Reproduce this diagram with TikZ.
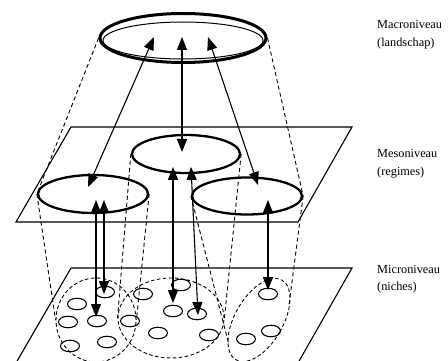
\documentclass[tikz,border=0pt]{standalone}
\usepackage{fontspec}
\setmainfont{Liberation Serif}
\usetikzlibrary{arrows.meta,shapes.geometric}
\begin{document}
\begin{tikzpicture}[x=1pt,y=-1pt,
  plane/.style={line width=1.1pt, line join=miter},
  level/.style={draw, ellipse, inner sep=0pt, line width=2.3pt},
  niche/.style={draw, ellipse, inner sep=0pt, minimum width=19pt, minimum height=11.5pt, line width=1.1pt},
  cluster/.style={draw, ellipse, inner sep=0pt, line width=0.9pt, dash pattern=on 3.5pt off 2.5pt},
  cone/.style={line width=0.9pt, dash pattern=on 4pt off 3pt},
  link/.style={line width=1.1pt, {Triangle[length=13pt,width=10pt]}-{Triangle[length=13pt,width=10pt]}},
  lbl/.style={font=\fontsize{12.3}{14}\selectfont, anchor=base west, inner sep=0pt}
]
\useasboundingbox (0,0) rectangle (448,361);

% planes of the meso and micro level
\coordinate (mesoA) at (16,222);
\coordinate (mesoB) at (298,222);
\coordinate (mesoC) at (352,127);
\coordinate (mesoD) at (71,127);
\draw[plane] (mesoA) -- (mesoB) -- (mesoC) -- (mesoD) -- cycle;
\coordinate (microA) at (16,363);
\coordinate (microB) at (298,363);
\coordinate (microC) at (352,268);
\coordinate (microD) at (71,268);
\draw[plane] (microA) -- (microD) -- (microC) -- (microB);

% macro level: landscape
\node[level, line width=3pt, minimum width=166pt, minimum height=49pt] (macro) at (183,38) {};
\node[draw, ellipse, inner sep=0pt, line width=1pt, minimum width=160pt, minimum height=37pt] (macroRim) at (183,40.5) {};

% meso level: regimes
\node[level, minimum width=110pt, minimum height=38pt] (mesoL) at (93,194) {};
\node[level, minimum width=108pt, minimum height=38pt] (mesoM) at (186,154) {};
\node[level, minimum width=110pt, minimum height=37pt] (mesoR) at (247,196) {};

% micro level: clusters of niches
\node[cluster, minimum width=80pt, minimum height=84pt] (microL) at (96,320) {};
\node[cluster, minimum width=106pt, minimum height=80pt] (microM) at (171,318) {};
\node[cluster, minimum width=48pt, minimum height=92pt, rotate=-30] (microR) at (259,320) {};

\foreach \p [count=\i] in {(105,292),(77,304),(143,294),(181,285),(173,311),(197,314),
  (68,322),(97,321),(130,321),(158,333),(209,335),(70,346),(107,342),
  (268,294),(271,331),(246,339)}
  \node[niche] (niche\i) at \p {};

% dashed outlines joining the levels
\coordinate (rBL) at (229,345);
\coordinate (rR) at (289,305);
\draw[cone] (macro.west) -- (mesoL.west);
\draw[cone] (macro.east) -- (mesoR.east);
\draw[cone] (mesoL.west) -- (microL.west);
\draw[cone] (mesoL.east) -- (microL.east);
\draw[cone] (mesoM.west) -- (microM.west);
\draw[cone] (mesoM.east) -- (microM.east);
\draw[cone] (mesoR.west) -- (rBL);
\draw[cone] (mesoR.east) -- (rR);

% interactions between the levels
\coordinate (upL) at (154,37);
\coordinate (upC) at (182,37);
\coordinate (upR) at (208,37);
\coordinate (inL) at (88,187);
\coordinate (inC) at (182,152);
\coordinate (inR) at (258,185);
\draw[link] (upC) -- (inC);
\draw[link] (upL) -- (inL);
\draw[link] (upR) -- (inR);

\coordinate (lA1) at (96,200);   \coordinate (lA2) at (96,317);
\coordinate (lB1) at (104,200);  \coordinate (lB2) at (104,294);
\coordinate (mA1) at (173,167);  \coordinate (mA2) at (173,303);
\coordinate (mB1) at (191,167);  \coordinate (mB2) at (198,315);
\coordinate (rA1) at (268,200);  \coordinate (rA2) at (268,290);
\draw[link] (lA1) -- (lA2);
\draw[link] (lB1) -- (lB2);
\draw[link] (mA1) -- (mA2);
\draw[link] (mB1) -- (mB2);
\draw[link] (rA1) -- (rA2);

% level names
\node[lbl] (macroT) at (377,29) {Macroniveau};
\node[lbl] (macroS) at (377,46.5) {(landschap)};
\node[lbl] (mesoT) at (377,158) {Mesoniveau};
\node[lbl] (mesoS) at (377,175.5) {(regimes)};
\node[lbl] (microT) at (377,273) {Microniveau};
\node[lbl] (microS) at (377,290.5) {(niches)};
\end{tikzpicture}
\end{document}
